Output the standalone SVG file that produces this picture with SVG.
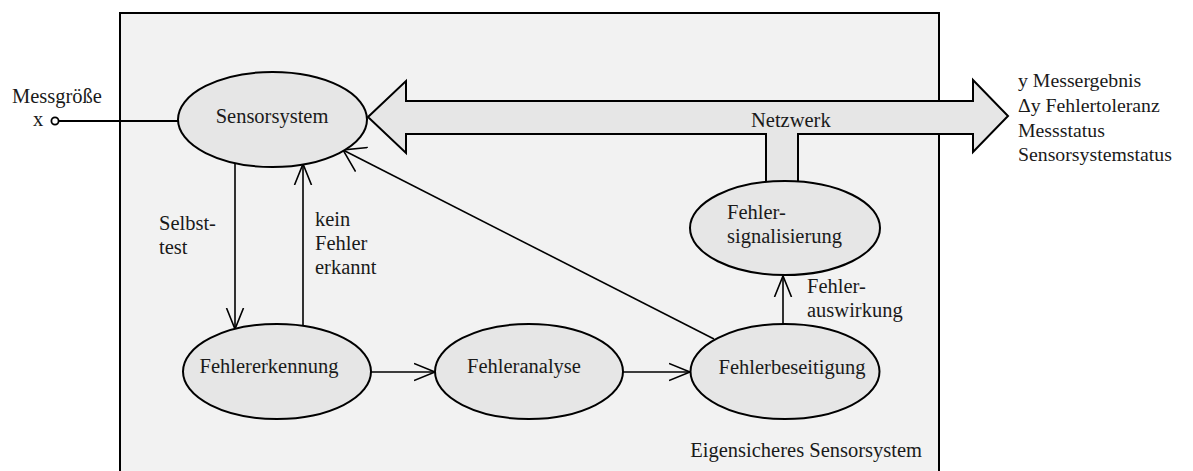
<svg xmlns="http://www.w3.org/2000/svg" width="1193" height="471" viewBox="0 0 1193 471">
  <style>
    text { font-family: "Liberation Serif", "Tinos", "Times New Roman", "DejaVu Serif", serif; font-size: 20.5px; fill: #1a1a1a; }
    .out { font-size: 19.8px; }
    .node { fill: #e6e6e6; stroke: #000; stroke-width: 2; }
    .edge { fill: none; stroke: #000; stroke-width: 1.6; }
    .mid { text-anchor: middle; }
  </style>
  <defs>
    <marker id="vee" markerUnits="userSpaceOnUse" markerWidth="24" markerHeight="22" refX="21" refY="10" orient="auto">
      <path d="M0,1.5 L21,10 L0,18.5" fill="none" stroke="#000" stroke-width="1.6"/>
    </marker>
    <marker id="veeWide" markerUnits="userSpaceOnUse" markerWidth="24" markerHeight="30" refX="21" refY="15" orient="auto">
      <path d="M0,1.5 L21,15 L0,28.5" fill="none" stroke="#000" stroke-width="1.6"/>
    </marker>
  </defs>

  <!-- system boundary -->
  <g id="system">
    <rect x="120" y="13" width="819" height="470" fill="#f2f2f2" stroke="#000" stroke-width="2"/>
    <text x="922" y="457" text-anchor="end">Eigensicheres Sensorsystem</text>
  </g>

  <!-- input quantity -->
  <g id="input">
    <text x="12" y="103">Messgröße</text>
    <text x="33" y="126">x</text>
    <line x1="59" y1="121" x2="178" y2="121" stroke="#000" stroke-width="2"/>
    <circle cx="55" cy="121" r="3.6" fill="#fff" stroke="#000" stroke-width="1.8"/>
  </g>

  <!-- network bus -->
  <g id="netzwerk">
    <path d="M368,117 L406,81 L406,101 L973,101 L973,80 L1008,116 L973,152 L973,134 L798,134 L798,182 L766,182 L766,134 L406,134 L406,153 Z" fill="#e6e6e6" stroke="#000" stroke-width="2" stroke-linejoin="miter"/>
    <text x="751" y="127">Netzwerk</text>
  </g>

  <!-- outputs -->
  <g id="outputs">
    <text class="out" x="1018" y="87">y Messergebnis</text>
    <text class="out" x="1018" y="112">Δy Fehlertoleranz</text>
    <text class="out" x="1018" y="137">Messstatus</text>
    <text class="out" x="1018" y="161">Sensorsystemstatus</text>
  </g>

  <!-- connectors -->
  <g id="connectors">
    <line class="edge" x1="235" y1="163" x2="235" y2="329" marker-end="url(#vee)"/>
    <line class="edge" x1="303" y1="327" x2="303" y2="164" marker-end="url(#vee)"/>
    <line class="edge" x1="371" y1="372" x2="435" y2="372" marker-end="url(#vee)"/>
    <line class="edge" x1="623" y1="372" x2="690" y2="372" marker-end="url(#vee)"/>
    <line class="edge" x1="783" y1="324" x2="783" y2="276" marker-end="url(#vee)"/>
    <line class="edge" x1="714" y1="339" x2="343" y2="150" marker-end="url(#veeWide)"/>
    <text x="159" y="230">Selbst-</text>
    <text x="159" y="254">test</text>
    <text x="315" y="226">kein</text>
    <text x="315" y="250">Fehler</text>
    <text x="315" y="274">erkannt</text>
    <text x="807" y="293">Fehler-</text>
    <text x="807" y="317">auswirkung</text>
  </g>

  <!-- nodes -->
  <g id="sensorsystem">
    <ellipse class="node" cx="272.5" cy="119.5" rx="94.5" ry="47.5"/>
    <text class="mid" x="272" y="123">Sensorsystem</text>
  </g>
  <g id="fehlersignalisierung">
    <ellipse class="node" cx="785" cy="228" rx="95" ry="47"/>
    <text x="727" y="219">Fehler-</text>
    <text x="727" y="243">signalisierung</text>
  </g>
  <g id="fehlererkennung">
    <ellipse class="node" cx="277" cy="371.5" rx="94" ry="47.5"/>
    <text class="mid" x="269" y="373">Fehlererkennung</text>
  </g>
  <g id="fehleranalyse">
    <ellipse class="node" cx="529" cy="371.5" rx="94" ry="47.5"/>
    <text class="mid" x="524" y="373">Fehleranalyse</text>
  </g>
  <g id="fehlerbeseitigung">
    <ellipse class="node" cx="785" cy="371.5" rx="94.5" ry="47.5"/>
    <text class="mid" x="792" y="374">Fehlerbeseitigung</text>
  </g>
</svg>
